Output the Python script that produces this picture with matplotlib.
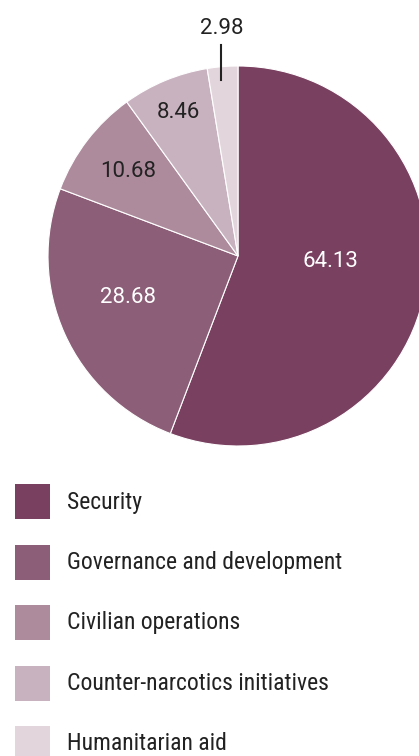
import numpy as np
import matplotlib
matplotlib.use("Agg")
import matplotlib.pyplot as plt
from matplotlib.patches import Rectangle

plt.rcParams['font.family'] = ['Roboto Condensed', 'Liberation Sans Narrow', 'DejaVu Sans']

# data
labels = ['Security', 'Governance and development', 'Civilian operations',
          'Counter-narcotics initiatives', 'Humanitarian aid']
values = [64.13, 28.68, 10.68, 8.46, 2.98]
colors = ['#7a4060', '#8c5e77', '#ae8b9c', '#c9b2bf', '#e3d5dc']
value_text_colors = ['white', 'white', '#222222', '#222222', '#222222']
# where each value sits: fraction along the wedge angle, fraction of radius
label_frac = [0.535, 0.46, 0.5, 0.5, 0.45]
label_dist = [0.49, 0.62, 0.73, 0.82, 1.2]

W, H = 419, 756
fig = plt.figure(figsize=(W / 100, H / 100), dpi=100)
ax = fig.add_axes([0, 0, 1, 1])

cx, cy, R = 238, H - 256, 190
wedges, _ = ax.pie(values, colors=colors, startangle=90, counterclock=False,
                   center=(cx, cy), radius=R, frame=True,
                   wedgeprops=dict(edgecolor='white', linewidth=0.8))
ax.set_xlim(0, W)
ax.set_ylim(0, H)
ax.set_aspect('equal')
ax.axis('off')

for w, v, tc, f, d in zip(wedges, values, value_text_colors, label_frac, label_dist):
    ang = np.deg2rad(w.theta1 + f * (w.theta2 - w.theta1))
    x = cx + d * R * np.cos(ang)
    y = cy + d * R * np.sin(ang)
    ax.text(x, y, f"{v:.2f}", ha='center', va='center', fontsize=16,
            color=tc, family=['Roboto', 'DejaVu Sans'])
    if d > 1:
        ax.plot([x, x], [cy + 0.93 * R * np.sin(ang), y - 16],
                color='#222222', lw=1.5)

# legend
for i, (lab, c) in enumerate(zip(labels, colors)):
    top = H - 484 - i * 60.5
    ax.add_patch(Rectangle((15, top - 35), 35, 35, facecolor=c, edgecolor='none'))
    ax.text(67, top - 18, lab, ha='left', va='center', fontsize=17, color='#222222')

fig.savefig('out.png', dpi=100)
